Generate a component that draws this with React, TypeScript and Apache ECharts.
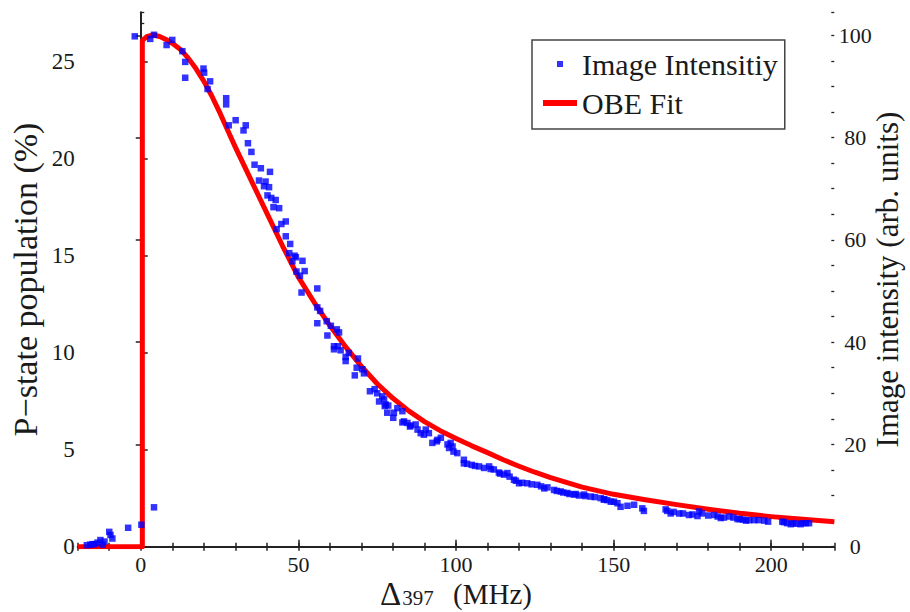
import React, { useEffect, useRef } from "react";
import * as echarts from "echarts";

// tick labels
const xTickLabels = [0, 50, 100, 150, 200];
const leftTickLabels = [0, 5, 10, 15, 20, 25];
const rightTickLabels = [0, 20, 40, 60, 80, 100];

// Image intensity (arb. units) measurements
const intensityX = [
  -17.1, -16, -15.3, -14.5, -13.7, -12.8, -12.1, -11.5, -10, -9.6, -9, -4, 0.2, 4.2,
  -1.9, 3, 4.2, 8.2, 10, 13.2, 14.1, 14.1, 19.9, 20.1, 22, 21.2, 27.1, 27.1, 27.9, 30.1,
  33.3, 32.6, 34, 35.1, 36.1, 38.1, 41, 37.5, 39.6, 40.7, 40.2, 39.1, 41.4, 42.8, 42.1,
  43.9, 46, 44.6, 43.1, 46, 47.4, 47.1, 48.8, 51.3, 48.1, 49.4, 52, 49.2, 50.5, 51, 56,
  56, 56.9, 56, 59, 60.3, 62.2, 62.9, 59.2, 61.3, 62.5, 61.3, 63.4, 65, 66, 68.9, 65,
  68.5, 70.3, 67.9, 70.8, 72.7, 74.2, 75, 76.6, 77.2, 78.5, 77.4, 78.2, 81.4, 83, 80.1,
  83, 84.6, 85.4, 87.2, 87.8, 90.4, 88.8, 89.8, 92.5, 94.1, 98.3, 97.8, 75.6, 77.7, 80.3,
  83.5, 85.6, 91.4, 93.9, 95.2, 97.3, 98.9, 99.2, 100.4, 102.5, 102.5, 107.3, 108.9, 110.5,
  112, 113.6, 115.2, 116.3, 118.4, 120, 122.6, 125.8, 129, 131.1, 133.2, 135.3, 137.4,
  140.6, 142.7, 145.9, 149.1, 151.2, 146.9, 150.1, 152.2, 154.4, 156.5, 159.1, 159.6,
  166.5, 168.1, 170.8, 173.9, 176.6, 177.1, 181.9, 184, 186.7, 189.3, 192, 194.6, 197.8,
  203.5, 206.2, 209.3, 212, 103.5, 105, 106, 111, 114, 117, 119, 121, 124, 127, 128, 132,
  134, 136, 138, 139, 141, 144, 147, 148, 167, 169, 172, 175, 178, 180, 183, 185, 188,
  190, 191, 193, 196, 199, 204, 205, 207, 208, 210, 211,
];
const intensityY = [
  0.3, 0.4, 0.5, 0.5, 0.8, 1.3, 0.4, 1.0, 2.9, 2.3, 1.6, 3.7, 4.3, 7.7,
  99.8, 99.3, 100.1, 98.1, 99.1, 96.9, 94.8, 91.7, 93.5, 92.7, 91.0, 89.5, 87.7, 86.5, 82.4, 83.4,
  82.4, 81.4, 78.9, 77.2, 74.7, 74.0, 73.3, 71.6, 71.4, 70.3, 68.7, 70.5, 68.2, 67.8, 66.4,
  66.2, 63.6, 63.1, 62.1, 60.7, 59.2, 57.4, 56.9, 55.9, 55.8, 53.8, 53.9, 56.6, 53.0, 49.7, 50.5,
  46.8, 46.1, 43.7, 44.1, 43.2, 42.5, 41.9, 41.3, 39.2, 39.2, 38.6, 38.4, 37.1, 37.9, 36.8, 36.3,
  35.0, 34.7, 33.5, 33.9, 30.4, 30.8, 30.0, 29.4, 28.8, 27.6, 27.5, 26.2, 27.1, 26.5, 25.2,
  24.3, 24.2, 23.5, 23.9, 22.9, 22.9, 22.2, 21.9, 20.3, 20.9, 20.3, 19.3, 28.4, 27.8, 26.2,
  24.5, 23.7, 22.2, 20.6, 21.3, 20.0, 19.6, 18.6, 18.3, 17.0, 16.3, 15.7, 15.4, 15.7,
  15.1, 14.5, 14.1, 14.4, 13.1, 12.4, 12.4, 12.1, 11.6, 11.1, 10.8, 10.5, 10.2,
  10.2, 9.8, 9.5, 8.8, 8.5, 9.2, 8.8, 7.8, 8.0, 8.2, 7.5, 7.0,
  7.3, 6.5, 6.5, 6.2, 6.0, 6.9, 6.2, 5.6, 5.9, 5.4, 5.1, 5.2, 5.1,
  4.9, 4.4, 4.4, 4.6, 16.2, 16.0, 15.8, 15.2, 14.3, 13.7, 12.9, 12.5, 12.2, 11.8, 11.4, 10.9,
  10.6, 10.3, 10.3, 10.0, 9.9, 9.7, 9.3, 9.1, 7.0, 6.8, 6.5, 6.3, 6.5, 6.1, 5.9, 5.7, 5.7,
  5.4, 5.3, 5.2, 5.2, 4.9, 4.8, 4.6, 4.6, 4.5, 4.6, 4.6,
];

// OBE fit: P-state population (%)
const fitX = [
  -20, 0.5, 0.5, 2, 4, 6, 8, 10, 12.5, 15, 17.5, 20, 22.5, 25, 27.5, 30, 35, 40, 45, 50, 55,
  60, 65, 70, 75, 80, 85, 90, 95, 100, 105, 110, 115, 120, 125, 130, 140, 150, 160, 170, 180,
  190, 200, 210, 220,
];
const fitY = [
  0, 0, 26.1, 26.3, 26.38, 26.3, 26.15, 25.95, 25.65, 25.2, 24.65, 24.0, 23.25, 22.4, 21.5,
  20.6, 18.9, 17.2, 15.5, 13.9, 12.6, 11.4, 10.3, 9.3, 8.4, 7.65, 7.0, 6.45, 5.98, 5.58, 5.2,
  4.85, 4.48, 4.15, 3.84, 3.56, 3.07, 2.7, 2.42, 2.17, 1.93, 1.72, 1.55, 1.41, 1.29,
];

const FONT = "Liberation Serif";
const INK = "#1a1a1a";

export default function App() {
  const ref = useRef<HTMLDivElement>(null);
  useEffect(() => {
    document.body.style.margin = "0";
    const chart = echarts.init(ref.current!, null, { renderer: "svg" });
    const axisLine = { show: true, lineStyle: { color: "#222", width: 1.8 } };
    const noSplit = { show: false };
    const option: any = {
      animation: false,
      backgroundColor: "#fff",
      textStyle: { fontFamily: FONT },
      grid: { left: 77.7, right: 75.7, top: 12.3, bottom: 65.3, outerBoundsMode: "none", containLabel: false },
      legend: {
        left: 532,
        top: 40,
        orient: "vertical",
        padding: [7, 7, 9, 11],
        itemWidth: 34,
        itemHeight: 6,
        itemGap: 5,
        borderColor: "#444",
        borderWidth: 1.5,
        textStyle: { fontFamily: FONT, fontSize: 30, color: INK, lineHeight: 34 },
        data: [
          { name: "Image Intensitiy", icon: "path://M0,0M34,6M14,0L20,0L20,6L14,6Z" },
          { name: "OBE Fit", icon: "rect" },
        ],
      },
      xAxis: [
        {
          type: "value",
          position: "bottom",
          min: -20,
          max: 220,
          interval: 10,
          axisLine,
          splitLine: noSplit,
          axisTick: { show: true, inside: true, length: 4, lineStyle: { color: "#222", width: 1.5 } },
          axisLabel: {
            customValues: xTickLabels,
            margin: 7,
            fontFamily: FONT,
            fontSize: 22,
            color: INK,
          },
          name: "{g|Δ}{s|397}{d| (MHz)}",
          nameLocation: "middle",
          nameGap: 33,
          nameMoveOverlap: false,
          nameTextStyle: {
            fontFamily: FONT,
            fontSize: 29,
            color: INK,
            rich: {
              g: { fontFamily: FONT, fontSize: 33, color: INK, lineHeight: 29, verticalAlign: "middle" },
              d: { fontFamily: FONT, fontSize: 29, color: INK, lineHeight: 29, verticalAlign: "middle" },
              s: {
                fontFamily: FONT,
                fontSize: 21,
                color: INK,
                lineHeight: 20,
                verticalAlign: "bottom",
                padding: [0, 12, 0, 1],
              },
            },
          },
        },
        {
          type: "value",
          position: "bottom",
          min: -20,
          max: 220,
          axisLine: { show: false },
          splitLine: noSplit,
          axisTick: {
            show: true,
            inside: true,
            length: 7,
            customValues: xTickLabels,
            lineStyle: { color: "#222", width: 1.5 },
          },
          axisLabel: { show: false },
        },
        {
          type: "value",
          position: "top",
          min: -20,
          max: 220,
          interval: 10,
          axisLine,
          splitLine: noSplit,
          axisTick: { show: true, inside: true, length: 4, lineStyle: { color: "#222", width: 1.5 } },
          axisLabel: { show: false },
        },
      ],
      yAxis: [
        {
          type: "value",
          position: "left",
          min: 0,
          max: 27.55,
          axisLine,
          splitLine: noSplit,
          axisTick: {
            show: true,
            inside: true,
            length: 7,
            customValues: leftTickLabels,
            lineStyle: { color: "#222", width: 1.5 },
          },
          axisLabel: { customValues: leftTickLabels, margin: 3, fontFamily: FONT, fontSize: 23, color: INK },
          name: "P\u2212state population (%)",
          nameLocation: "middle",
          nameRotate: 90,
          nameGap: 35,
          nameMoveOverlap: false,
          nameTextStyle: { fontFamily: FONT, fontSize: 34, color: INK },
        },
        {
          type: "value",
          position: "right",
          min: 0,
          max: 104.5,
          axisLine,
          splitLine: noSplit,
          axisTick: {
            show: true,
            inside: true,
            length: 5,
            customValues: rightTickLabels,
            lineStyle: { color: "#222", width: 1.5 },
          },
          axisLabel: {
            customValues: rightTickLabels,
            margin: 21,
            align: "center",
            fontFamily: FONT,
            fontSize: 22,
            color: INK,
          },
          name: "Image intensity (arb. units)",
          nameLocation: "middle",
          nameRotate: 90,
          nameGap: 38,
          nameMoveOverlap: false,
          nameTextStyle: { fontFamily: FONT, fontSize: 31, color: INK },
        },
        {
          type: "value",
          position: "left",
          min: 0,
          max: 27.55,
          interval: 1,
          axisLine: { show: false },
          splitLine: noSplit,
          axisTick: { show: true, inside: true, length: 3.5, lineStyle: { color: "#222", width: 1.3 } },
          axisLabel: { show: false },
        },
        {
          type: "value",
          position: "right",
          min: 0,
          max: 104.5,
          interval: 5,
          axisLine: { show: false },
          splitLine: noSplit,
          axisTick: { show: true, inside: true, length: 3, lineStyle: { color: "#222", width: 1.3 } },
          axisLabel: { show: false },
        },
      ],
      series: [
        {
          name: "OBE Fit",
          type: "line",
          xAxisIndex: 0,
          yAxisIndex: 0,
          data: fitX.map((x, i) => [x, fitY[i]]),
          symbol: "none",
          lineStyle: { color: "#ff0000", width: 5, join: "round" },
          itemStyle: { color: "#ff0000" },
          z: 2,
        },
        {
          name: "Image Intensitiy",
          type: "scatter",
          xAxisIndex: 0,
          yAxisIndex: 1,
          data: intensityX.map((x, i) => [x, intensityY[i]]),
          symbol: "rect",
          symbolSize: 6.5,
          itemStyle: { color: "#0000ff" },
          z: 3,
        },
      ],
    };
    chart.setOption(option);
    return () => chart.dispose();
  }, []);
  return <div ref={ref} style={{ position: "fixed", left: 0, top: 0, width: 910, height: 612 }} />;
}
